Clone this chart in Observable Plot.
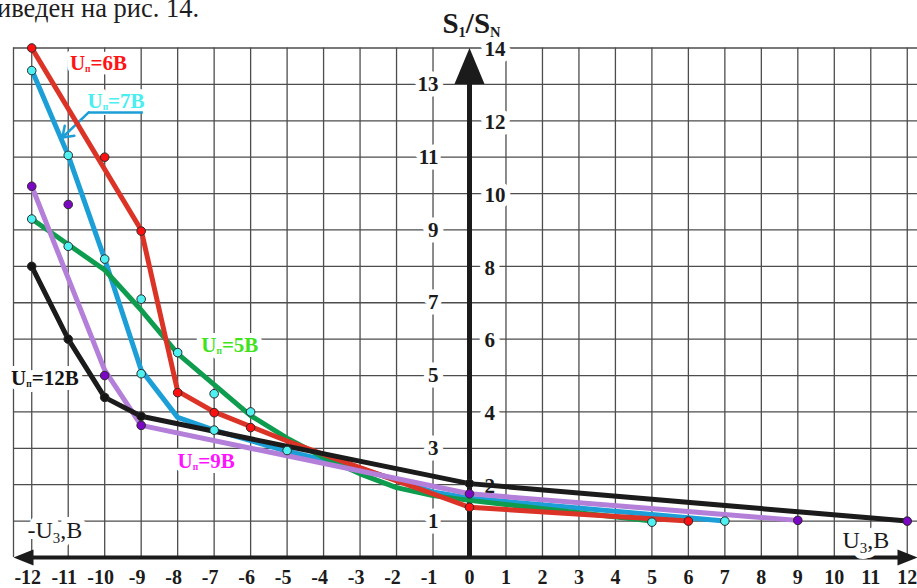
<!DOCTYPE html>
<html>
<head>
<meta charset="utf-8">
<script src="https://cdn.jsdelivr.net/npm/d3@7"></script>
<script src="https://cdn.jsdelivr.net/npm/@observablehq/plot@0.6"></script>
<style>
  html, body { margin: 0; padding: 0; background: #fff; overflow: hidden; }
  #wrap { position: relative; width: 917px; height: 588px; }
  #note { position: absolute; left: -3px; top: -5px; font-family: "Liberation Serif", "Times New Roman", serif;
          font-size: 26.5px; line-height: 26.5px; color: #1e1e1e; white-space: nowrap; }
</style>
</head>
<body>
<div id="wrap">
  <div id="chart"></div>
  <div id="note">иведен на рис. 14.</div>
</div>
<script>
// ---------- axis ticks ----------
const xTicks = [-12,-11,-10,-9,-8,-7,-6,-5,-4,-3,-2,-1,0,1,2,3,4,5,6,7,8,9,10,11,12];
const xTickLabels = ["-12","-11","-10","-9","-8","-7","-6","-5","-4","-3","-2","-1","0","1","2","3","4","5","6","7","8","9","10","11","12"];
const yTicksLeft = [1,3,5,7,9,11,13];
const yTicksRight = [2,4,6,8,10,12,14];
const gridX = [-12.5,-12,-11,-10,-9,-8,-7,-6,-5,-4,-3,-2,-1,1,2,3,4,5,6,7,8,9,10,11,12,12.5];
const gridY = [1,2,3,4,5,6,7,8,9,10,11,12,13,14];

// ---------- series (curves) ----------
const u6X  = [-12, -9, -8, -7, -6, -5, -3, -1, 0, 6];
const u6Y  = [14, 9, 4.57, 4.0, 3.6, 3.2, 2.47, 1.75, 1.38, 1.0];
const u7X  = [-12, -11, -10, -9, -8, -7, -5, -3, -1, 0, 7];
const u7Y  = [13.4, 11.05, 8.2, 5.15, 3.85, 3.5, 2.92, 2.45, 1.8, 1.63, 1.0];
const u5X  = [-12, -11, -10, -9, -8, -7, -6, -5, -4, -3, -2, -1, 0, 5];
const u5Y  = [9.3, 8.6, 7.9, 6.8, 5.6, 4.75, 3.9, 3.28, 2.75, 2.3, 1.92, 1.7, 1.57, 1.0];
const u9X  = [-12, -10, -9, 0, 9];
const u9Y  = [10.2, 5.15, 3.63, 1.75, 1.02];
const u12X = [-12, -11, -10, -9, 0, 12];
const u12Y = [8.0, 6.0, 4.4, 3.88, 2.03, 1.0];

// ---------- measured points (markers) ----------
const redDotX    = [-12, -10, -9, -8, -7, -6, 0, 6];
const redDotY    = [14, 11, 8.97, 4.53, 3.98, 3.57, 1.38, 1.0];
const cyanDotX   = [-12, -11, -10, -9, -7, -5, 7, -12, -11, -9, -8, -7, -6, 5];
const cyanDotY   = [13.38, 11.05, 8.2, 5.05, 3.5, 2.94, 1.0, 9.3, 8.55, 7.1, 5.63, 4.5, 4.0, 0.97];
const purpleDotX = [-12, -11, -10, -9, 0, 9, 12];
const purpleDotY = [10.2, 9.7, 5.0, 3.63, 1.75, 1.02, 1.0];
const blackDotX  = [-12, -11, -10, -9, 0];
const blackDotY  = [8.0, 6.0, 4.4, 3.88, 2.03];

// ---------- annotations ----------
const seriesLabels = ["U|п|=6В", "U|п|=7В", "U|п|=5В", "U|п|=12В", "U|п|=9В"];
const seriesLabelX = [-10.17, -9.69, -6.57, -11.64, -7.22];
const seriesLabelY = [13.58, 12.53, 5.84, 4.93, 2.65];
const seriesLabelColor = ["#ff1414", "#48eef0", "#3fe31c", "#141414", "#ff12ff"];
const pointerFrom = [-10.44, 12.23];   // start of the underline/pointer for U=7В
const pointerTo = [-11.16, 11.54];
const underlineEnd = -8.94;

const FONT = '"Liberation Serif", "Times New Roman", serif';
const INK = "#1b1b1b";
const GRID = "#4d4d4d";
const RED = "#dc3327", BLUE = "#1b9fd6", GREEN = "#0e9c4f", PURPLE = "#b37fd9", BLACK = "#1b1b1b";

const pts = (X, Y) => X.map((x, i) => ({x, y: Y[i]}));

const arrowUp    = {draw(c) { c.moveTo(0, 0); c.lineTo(-15, 36); c.lineTo(15, 36); c.closePath(); }};
const arrowLeft  = {draw(c) { c.moveTo(0, 0); c.lineTo(20, -8); c.lineTo(20, 8); c.closePath(); }};
const arrowRight = {draw(c) { c.moveTo(0, 0); c.lineTo(-20, -8); c.lineTo(-20, 8); c.closePath(); }};

const xMin = -12.5, xMax = 12.5, yMax = 14;

const lineOpts = (stroke) => ({x: "x", y: "y", stroke, strokeWidth: 5, strokeLinejoin: "round", strokeLinecap: "round"});
const dotOpts = (fill) => ({x: "x", y: "y", r: 4.3, fill, stroke: "#2a2a2a", strokeWidth: 1});
const tickFont = {fontSize: 21, fontWeight: "bold", fontFamily: FONT, fill: INK};

const negTicks = xTicks.filter(d => d < 0);
const posTicks = xTicks.filter(d => d >= 0);
const tickLabel = d => xTickLabels[xTicks.indexOf(d)];

// text drawn on a white halo (halo copy first, then the clean text on top)
function haloText(data, opts, width) {
  return [
    Plot.text(data, {...opts, fill: "white", stroke: "white", strokeWidth: width}),
    Plot.text(data, opts)
  ];
}

const plot = Plot.plot({
  width: 917,
  height: 588,
  marginTop: 0, marginRight: 0, marginBottom: 0, marginLeft: 0,
  x: {domain: [xMin, xMax], range: [13, 925], axis: null},
  y: {domain: [0, yMax], range: [557, 47.5], axis: null},
  style: {background: "white", overflow: "hidden"},
  marks: [
    // grid
    Plot.ruleX(gridX, {y1: 0, y2: yMax, stroke: GRID, strokeWidth: 1.3}),
    Plot.ruleY(gridY, {x1: xMin, x2: xMax, stroke: GRID, strokeWidth: 1.3}),
    // main axes
    Plot.ruleY([0], {x1: xMin + 0.4, x2: 11.9, stroke: INK, strokeWidth: 4}),
    Plot.ruleX([0], {y1: 0, y2: 13.2, stroke: INK, strokeWidth: 5}),
    Plot.dot([{x: 0, y: yMax}], {x: "x", y: "y", symbol: arrowUp, r: 10, fill: INK, stroke: "none"}),
    Plot.dot([{x: xMin, y: 0}], {x: "x", y: "y", symbol: arrowLeft, r: 10, fill: INK, stroke: "none"}),
    Plot.dot([{x: 12.28, y: 0}], {x: "x", y: "y", symbol: arrowRight, r: 10, fill: INK, stroke: "none"}),
    // tick labels
    Plot.text(negTicks, {x: d => d, y: 0, text: tickLabel, dy: 20, dx: -4, ...tickFont, fontSize: 20}),
    Plot.text(posTicks, {x: d => d, y: 0, text: tickLabel, dy: 20, ...tickFont, fontSize: 20}),
    ...haloText(yTicksLeft, {x: 0, y: d => d, text: d => String(d), textAnchor: "end", dx: -31, ...tickFont}, 11),
    ...haloText(yTicksRight, {x: 0, y: d => d, text: d => String(d), textAnchor: "start", dx: 15, dy: 1.5, ...tickFont}, 11),
    // axis titles
    Plot.text([{x: 0, y: yMax}], {x: "x", y: "y", text: () => "S|1|/S|N", dy: -24, dx: 2,
      fontSize: 29, fontWeight: "bold", fontFamily: FONT, fill: INK}),
    ...haloText([{x: xMin, y: 0}], {x: "x", y: "y", text: () => "-U|3|,В", dx: 14, dy: -27, textAnchor: "start",
      fontSize: 24, fontFamily: FONT, fill: INK}, 12),
    ...haloText([{x: xMax, y: 0}], {x: "x", y: "y", text: () => "U|3|,В", dx: -83, dy: -17, textAnchor: "start",
      fontSize: 24, fontFamily: FONT, fill: INK}, 12),
    // series labels
    ...haloText(seriesLabels, {x: seriesLabelX, y: seriesLabelY, text: d => d, fill: seriesLabelColor,
      fontSize: 21, fontWeight: "bold", fontFamily: FONT}, 10),
    Plot.ruleY([pointerFrom[1]], {x1: pointerFrom[0], x2: underlineEnd, stroke: BLUE, strokeWidth: 2.5}),
    Plot.arrow([{x1: pointerFrom[0], y1: pointerFrom[1], x2: pointerTo[0], y2: pointerTo[1]}],
      {x1: "x1", y1: "y1", x2: "x2", y2: "y2", stroke: BLUE, strokeWidth: 2.5, headLength: 10, headAngle: 70}),
    // curves
    Plot.line(pts(u7X, u7Y), lineOpts(BLUE)),
    Plot.line(pts(u5X, u5Y), lineOpts(GREEN)),
    Plot.line(pts(u6X, u6Y), lineOpts(RED)),
    Plot.line(pts(u9X, u9Y), lineOpts(PURPLE)),
    Plot.line(pts(u12X, u12Y), lineOpts(BLACK)),
    // markers
    Plot.dot(pts(redDotX, redDotY), dotOpts("#ff1010")),
    Plot.dot(pts(cyanDotX, cyanDotY), dotOpts("#4ef0f0")),
    Plot.dot(pts(purpleDotX, purpleDotY), dotOpts("#7b06c4")),
    Plot.dot(pts(blackDotX, blackDotY), dotOpts("#151515"))
  ]
});

// turn "a|sub|b" strings into real subscripts
plot.querySelectorAll("text").forEach(t => {
  const raw = t.textContent;
  if (!raw.includes("|")) return;
  const g = t.closest("g");
  const fs = parseFloat((g && g.getAttribute("font-size")) || 21);
  let scale = 0.62, shift = 5;
  if (raw.includes("п")) { scale = 0.45; shift = 2; }
  else if (raw.startsWith("S")) { scale = 0.5; shift = 4; }
  const parts = raw.split("|");
  t.textContent = "";
  parts.forEach((p, i) => {
    if (!p) return;
    const ts = document.createElementNS("http://www.w3.org/2000/svg", "tspan");
    ts.textContent = p;
    if (i % 2 === 1) {
      ts.setAttribute("font-size", fs * scale);
      ts.setAttribute("dy", shift);
    } else if (i > 0) {
      ts.setAttribute("dy", -shift);
    }
    t.appendChild(ts);
  });
});

document.getElementById("chart").appendChild(plot);
</script>
</body>
</html>
